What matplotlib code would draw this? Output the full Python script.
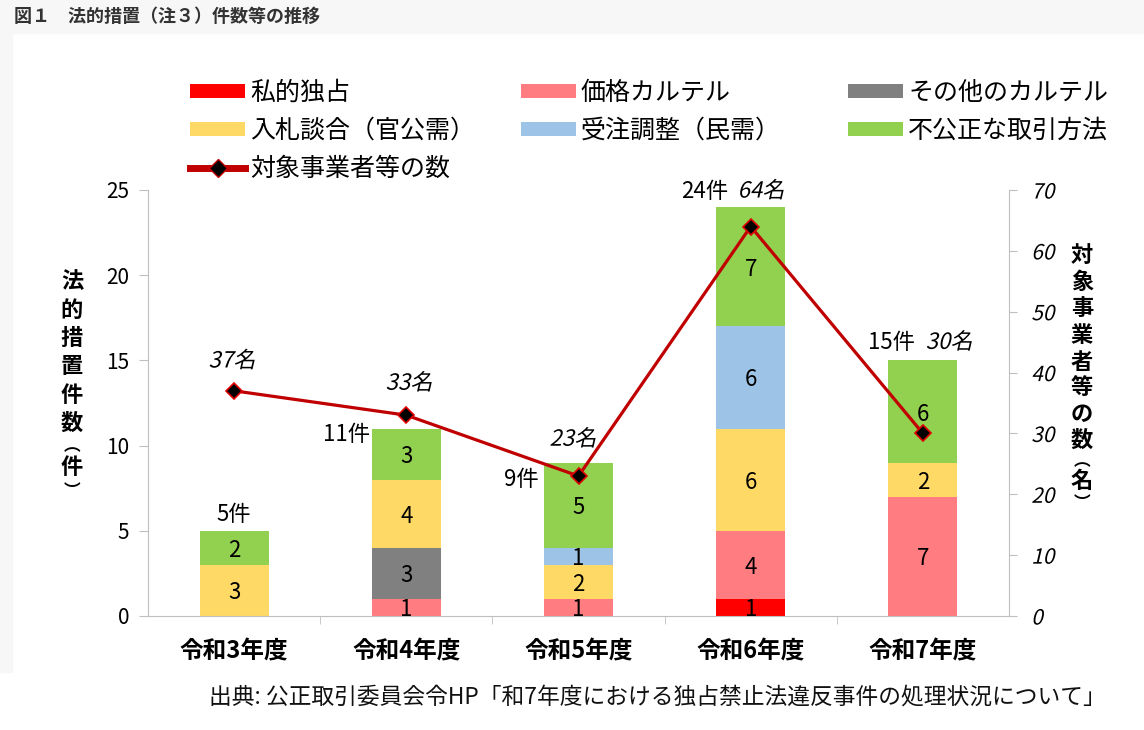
import matplotlib
matplotlib.use('Agg')
import numpy as np
import matplotlib.pyplot as plt
from matplotlib.patches import Rectangle, Patch
from matplotlib.lines import Line2D
from matplotlib.patheffects import AbstractPathEffect
from matplotlib.transforms import Affine2D

plt.rcParams['font.family'] = ['Noto Sans CJK JP', 'DejaVu Sans']

# データ
years = ['令和3年度', '令和4年度', '令和5年度', '令和6年度', '令和7年度']
shiteki_dokusen = [0, 0, 0, 1, 0]
kakaku_cartel = [0, 1, 1, 4, 7]
sonota_cartel = [0, 3, 0, 0, 0]
nyusatsu_dango = [3, 4, 2, 6, 2]
juchu_chosei = [0, 0, 1, 6, 0]
fukosei_torihiki = [2, 3, 5, 7, 6]
jigyosha_su = [37, 33, 23, 64, 30]

series = [
    ('私的独占', shiteki_dokusen, '#ff0000'),
    ('価格カルテル', kakaku_cartel, '#ff7c80'),
    ('その他のカルテル', sonota_cartel, '#808080'),
    ('入札談合（官公需）', nyusatsu_dango, '#ffd966'),
    ('受注調整（民需）', juchu_chosei, '#9dc3e6'),
    ('不公正な取引方法', fukosei_torihiki, '#92d050'),
]
line_name = '対象事業者等の数'
line_color = '#c00000'
grid_color = '#bfbfbf'


class Oblique(AbstractPathEffect):
    # 斜体の代わりにテキストを傾ける
    def __init__(self, angle=13):
        super().__init__()
        self._skew = Affine2D().skew_deg(angle, 0)

    def draw_path(self, renderer, gc, tpath, affine, rgbFace=None):
        renderer.draw_path(gc, tpath, self._skew + affine, rgbFace)


W, H = 1144, 730
fig = plt.figure(figsize=(W / 100, H / 100), dpi=100)
fig.add_artist(Rectangle((0, 1 - 33 / H), 1, 33 / H, transform=fig.transFigure,
                         color='#f7f7f7', zorder=-5))
fig.add_artist(Rectangle((0, 1 - 672 / H), 12 / W, (672 - 33) / H,
                         transform=fig.transFigure, color='#f7f7f7', zorder=-5))

ax = fig.add_axes([148 / W, 1 - 616 / H, (1009 - 148) / W, (616 - 190) / H])
ax2 = ax.twinx()
ax.patch.set_visible(False)
ax2.patch.set_visible(False)

x = np.arange(len(years))
bar_w = 0.4
bottom = np.zeros(len(years))
for name, vals, col in series:
    vals = np.array(vals)
    ax.bar(x, vals, bar_w, bottom=bottom, color=col, linewidth=0, label=name)
    for i, v in enumerate(vals):
        if v > 0:
            ax.text(i, bottom[i] + v / 2, str(v), ha='center', va='center_baseline',
                    fontsize=16)
    bottom += vals
totals = bottom.astype(int)

ax2.plot(x, jigyosha_su, color=line_color, lw=2.3, marker='D', ms=8,
         mfc='black', mec='#e00000', mew=1.2, zorder=5)

# 件数ラベル
ax.annotate(f'{totals[0]}件', (0, totals[0]), xytext=(0, 11.5), textcoords='offset points',
            ha='center', va='center', fontsize=16)
ax.annotate(f'{totals[1]}件', (1 - bar_w / 2, totals[1]), xytext=(-1, -4),
            textcoords='offset points', ha='right', va='center', fontsize=16)
ax.annotate(f'{totals[2]}件', (2 - bar_w / 2, totals[2]), xytext=(-4, -12),
            textcoords='offset points', ha='right', va='center', fontsize=16)
ax.annotate(f'{totals[3]}件', (3, totals[3]), xytext=(-16, 11.5),
            textcoords='offset points', ha='right', va='center', fontsize=16)
ax.annotate(f'{totals[4]}件', (4, totals[4]), xytext=(-6, 13),
            textcoords='offset points', ha='right', va='center', fontsize=16)

# 事業者数ラベル
ax.annotate(f'{jigyosha_su[3]}名', (3, totals[3]), xytext=(-9.5, 11.5),
            textcoords='offset points', ha='left', va='center', fontsize=16,
            path_effects=[Oblique()])
ax.annotate(f'{jigyosha_su[4]}名', (4, totals[4]), xytext=(2, 13),
            textcoords='offset points', ha='left', va='center', fontsize=16,
            path_effects=[Oblique()])
for i, (dx, dy) in enumerate([(-1.5, 21.5), (2, 23), (-4, 26.5)]):
    ax2.annotate(f'{jigyosha_su[i]}名', (i, jigyosha_su[i]), xytext=(dx, dy),
                 textcoords='offset points', ha='center', va='center', fontsize=16,
                 path_effects=[Oblique()])

# 軸
ax.set_xlim(-0.5, len(years) - 0.5)
ax.set_ylim(0, 25)
ax.set_yticks(range(0, 26, 5))
ax2.set_ylim(0, 70)
ax2.set_yticks(range(0, 71, 10))
ax.set_xticks(x)
ax.set_xticklabels(years, fontsize=17, fontweight='bold')
ax.set_xticks(x[:-1] + 0.5, minor=True)
ax.tick_params(axis='x', which='major', length=0, pad=17)
ax.tick_params(axis='x', which='minor', length=6, color=grid_color, direction='out')
ax.tick_params(axis='y', length=6.5, color=grid_color, pad=7, labelsize=15)
ax2.tick_params(axis='y', length=6, color=grid_color, pad=10, labelsize=15)
for t in ax2.get_yticklabels():
    t.set_path_effects([Oblique()])

for a in (ax, ax2):
    a.spines['top'].set_visible(False)
ax.spines['right'].set_visible(False)
ax2.spines['left'].set_visible(False)
ax2.spines['bottom'].set_visible(False)
ax.spines['left'].set_color(grid_color)
ax.spines['bottom'].set_color(grid_color)
ax2.spines['right'].set_color(grid_color)

# 縦書きの軸ラベル（文字ごとに配置、括弧は縦書き用の字形で小さめ）
def vertical_label(chars, ys, px):
    for ch, py in zip(chars, ys):
        size = 12 if ch in '︵︶' else 16
        fig.text(px / W, 1 - py / H, ch, ha='center', va='center',
                 fontsize=size, fontweight='bold')


vertical_label(['法', '的', '措', '置', '件', '数', '︵', '件', '︶'],
               [282, 310, 338, 366, 395, 423, 446, 468, 491], 72)
vertical_label(['対', '象', '事', '業', '者', '等', 'の', '数', '︵', '名', '︶'],
               [256, 282, 308, 335, 362, 388, 415, 440, 461, 481, 503], 1082)

# 凡例
handles = [Patch(facecolor=c, edgecolor='none') for _, _, c in series]
labels = [n for n, _, _ in series]
line_handle = Line2D([], [], color=line_color, lw=5, marker='D', ms=9,
                     mfc='black', mec=line_color, mew=1)
columns = [
    ([handles[0], handles[3], line_handle], [labels[0], labels[3], line_name], 190),
    ([handles[1], handles[4]], [labels[1], labels[4]], 521),
    ([handles[2], handles[5]], [labels[2], labels[5]], 848),
]
for hs, ls, px in columns:
    fig.legend(hs, ls, loc='upper left', bbox_to_anchor=(px / W, 1 - 80 / H),
               frameon=False, fontsize=18, handlelength=2.2, handleheight=0.5,
               handletextpad=0.2, labelspacing=0.47, borderpad=0, borderaxespad=0)

fig.text(14 / W, 1 - 16 / H, '図１　法的措置（注３）件数等の推移', ha='left', va='center',
         fontsize=13, fontweight='bold', color='#333333')
fig.text(1106 / W, 1 - 697 / H,
         '出典: 公正取引委員会令HP「和7年度における独占禁止法違反事件の処理状況について」',
         ha='right', va='center', fontsize=16.4, color='#111111')

fig.savefig('out.png', dpi=100, facecolor='white')
